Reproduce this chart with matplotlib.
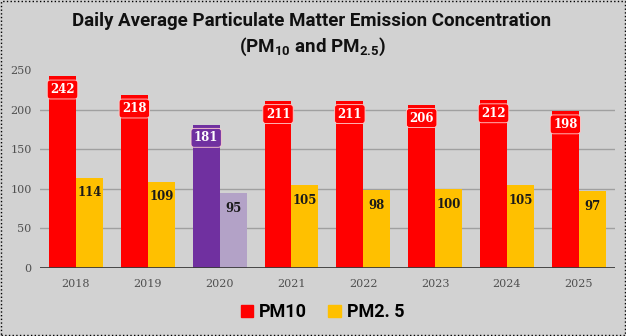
import matplotlib.pyplot as plt
import matplotlib.patches as mpatches
import numpy as np

plt.rcParams['mathtext.default'] = 'regular'

# Concentrações médias diárias
anos = ['2018', '2019', '2020', '2021', '2022', '2023', '2024', '2025']
pm10 = [242, 218, 181, 211, 211, 206, 212, 198]
pm25 = [114, 109, 95, 105, 98, 100, 105, 97]

cor_pm10 = ['#ff0000'] * len(anos)
cor_pm25 = ['#ffc000'] * len(anos)
cor_pm10[2] = '#7030a0'
cor_pm25[2] = '#b3a2c7'

fundo = '#d2d2d2'
fig = plt.figure(figsize=(6.26, 3.36), dpi=100, facecolor=fundo)
ax = fig.add_axes([0.064, 0.2024, 0.918, 0.5893])
ax.set_facecolor(fundo)

x = np.arange(len(anos))
w = 0.375
b1 = ax.bar(x - w / 2, pm10, w, color=cor_pm10, zorder=3)
b2 = ax.bar(x + w / 2, pm25, w, color=cor_pm25, zorder=3)

# Rótulos de valor
for i, (r, v) in enumerate(zip(b1, pm10)):
    ax.annotate(str(v), (r.get_x() + r.get_width() / 2, v), xytext=(0, -9.5),
                textcoords='offset points', ha='center', va='center',
                family='DejaVu Serif', fontweight='bold', fontsize=8.5, color='white',
                bbox=dict(boxstyle='round,pad=0.25', fc=cor_pm10[i], ec='#ffd0d0', lw=0.6),
                zorder=5)
for r, v in zip(b2, pm25):
    ax.annotate(str(v), (r.get_x() + r.get_width() / 2, v), xytext=(0, -11),
                textcoords='offset points', ha='center', va='center',
                family='DejaVu Serif', fontweight='bold', fontsize=8.5, color='#1a1a1a',
                zorder=5)

ax.set_xlim(-0.5, len(anos) - 0.5)
ax.set_ylim(0, 250)
ax.set_yticks(np.arange(0, 251, 50))
ax.set_xticks(x)
ax.set_xticklabels(anos)
for lbl in ax.get_xticklabels() + ax.get_yticklabels():
    lbl.set_family('DejaVu Serif')
    lbl.set_fontsize(8)
    lbl.set_color('#505050')
ax.tick_params(axis='x', length=0, pad=8)
ax.tick_params(axis='y', length=0, pad=6)
for yv in [50, 100, 150, 200]:
    ax.axhline(yv, color='#a0a0a0', lw=1, zorder=1)
ax.axhline(0, color='#3a3a3a', lw=2, zorder=4)
for s in ax.spines.values():
    s.set_visible(False)

fig.text(0.497, 0.938, 'Daily Average Particulate Matter Emission Concentration',
         ha='center', va='center', fontsize=13.5, fontweight='bold', family='Roboto', color='#111111')
fig.text(0.5, 0.86, '(PM$_{10}$ and PM$_{2.5}$)',
         ha='center', va='center', fontsize=13.5, fontweight='bold', family='Roboto', color='#111111')

handles = [mpatches.Patch(color='#ff0000', label='PM10'),
           mpatches.Patch(color='#ffc000', label='PM2. 5')]
fig.legend(handles=handles, loc='center', bbox_to_anchor=(0.515, 0.07), ncol=2, frameon=False,
           prop={'family': 'Roboto', 'weight': 'bold', 'size': 13},
           handlelength=0.7, handleheight=0.7, handletextpad=0.3, columnspacing=1.2)

fig.patches.append(mpatches.Rectangle((0.001, 0.002), 0.997, 0.995, transform=fig.transFigure,
                                      fill=False, ec='black', lw=1, ls=':'))

fig.savefig('out.png', dpi=100, facecolor=fundo)
